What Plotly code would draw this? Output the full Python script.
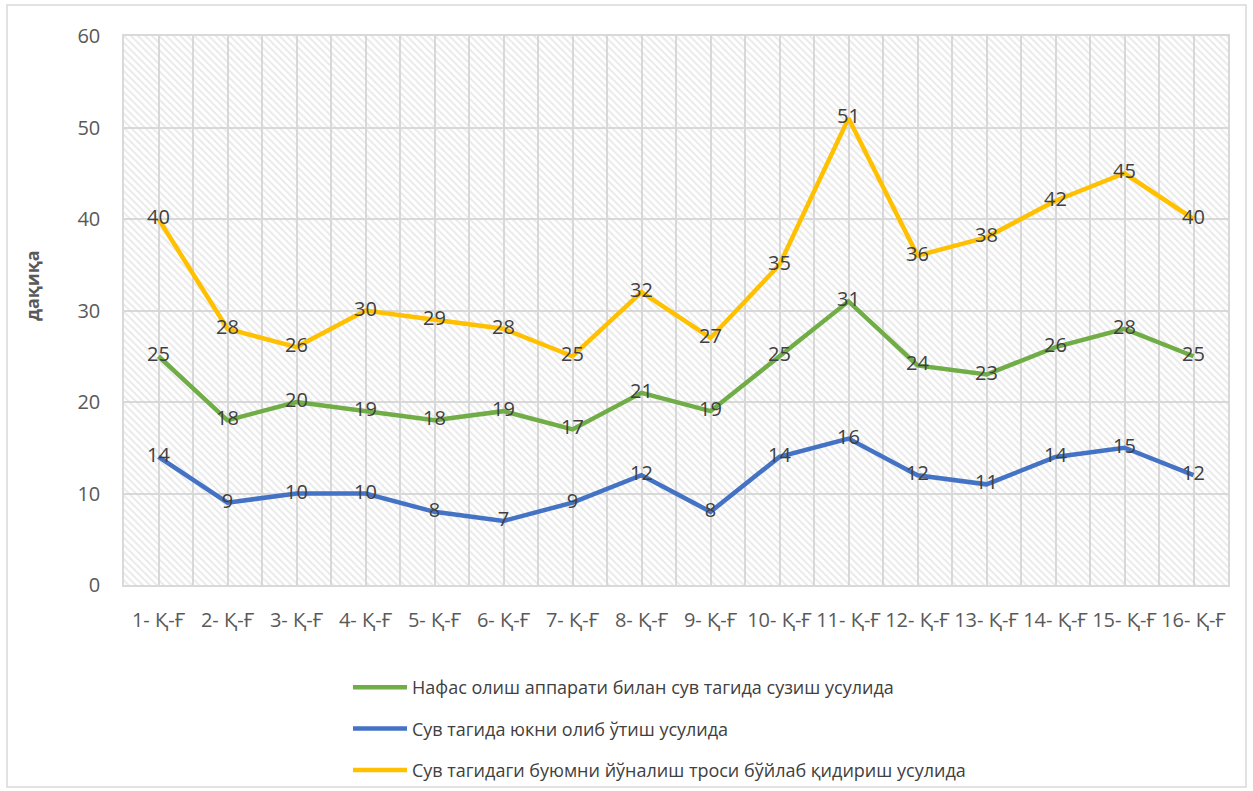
import plotly.graph_objects as go

categories = ["1- Қ-Ғ", "2- Қ-Ғ", "3- Қ-Ғ", "4- Қ-Ғ", "5- Қ-Ғ", "6- Қ-Ғ", "7- Қ-Ғ", "8- Қ-Ғ",
              "9- Қ-Ғ", "10- Қ-Ғ", "11- Қ-Ғ", "12- Қ-Ғ", "13- Қ-Ғ", "14- Қ-Ғ", "15- Қ-Ғ", "16- Қ-Ғ"]
green_name = "Нафас олиш аппарати билан сув тагида сузиш усулида"
blue_name = "Сув тагида юкни олиб ўтиш усулида"
yellow_name = "Сув тагидаги буюмни йўналиш троси бўйлаб қидириш усулида"
green_vals = [25, 18, 20, 19, 18, 19, 17, 21, 19, 25, 31, 24, 23, 26, 28, 25]
blue_vals = [14, 9, 10, 10, 8, 7, 9, 12, 8, 14, 16, 12, 11, 14, 15, 12]
yellow_vals = [40, 28, 26, 30, 29, 28, 25, 32, 27, 35, 51, 36, 38, 42, 45, 40]
y_ticks = [0, 10, 20, 30, 40, 50, 60]
y_title = "дақиқа"

FONT = "Open Sans"
FS = 20
W, H = 1253, 791
L, R, T, B = 124, 25, 36, 206
n = len(categories)
xs = list(range(n))
x_range = [-0.5, n - 0.5]
y_range = [y_ticks[0], y_ticks[-1]]

fig = go.Figure()

# hatched plot-area background
fig.add_trace(go.Scatter(
    x=[x_range[0], x_range[1], x_range[1], x_range[0], x_range[0]],
    y=[y_range[0], y_range[0], y_range[1], y_range[1], y_range[0]],
    mode="lines", line=dict(width=0), fill="toself",
    fillcolor="rgba(0,0,0,0)",
    fillpattern=dict(shape="\\", fgcolor="#d3d3d3", bgcolor="rgba(0,0,0,0)",
                     size=5, solidity=0.38),
    hoverinfo="skip", showlegend=False))

series = [
    (green_name, green_vals, "#70AD47"),
    (blue_name, blue_vals, "#4472C4"),
    (yellow_name, yellow_vals, "#FFC000"),
]
for i, (name, vals, color) in enumerate(series):
    fig.add_trace(go.Scatter(
        x=xs, y=vals, name=name, mode="lines+text",
        text=[str(v) for v in vals], textposition="middle center",
        textfont=dict(family=FONT, size=FS, color="#404040"),
        line=dict(color=color, width=4.5), legendgroup=str(i)))

px_x = lambda px: (px - L) / (W - L - R)
px_y = lambda py: (H - B - py) / (H - T - B)

# outer chart border
fig.add_shape(type="rect", xref="paper", yref="paper",
              x0=px_x(7), x1=px_x(1246), y0=px_y(787), y1=px_y(5),
              line=dict(color="#d9d9d9", width=1.5), fillcolor="rgba(0,0,0,0)", layer="below")

# y axis title
fig.add_annotation(text="<b>" + y_title + "</b>", textangle=-90, xref="paper", yref="paper",
                   x=px_x(32), y=px_y(286), showarrow=False, xanchor="center", yanchor="middle",
                   font=dict(family=FONT, size=18, color="#595959"))

fig.update_layout(
    width=W, height=H,
    margin=dict(l=L, r=R, t=T, b=B),
    paper_bgcolor="white", plot_bgcolor="white",
    font=dict(family=FONT, size=FS, color="#595959"),
    showlegend=True,
    legend=dict(orientation="v", x=px_x(348), xanchor="left",
                yref="container", y=1 - 669 / H, yanchor="top",
                font=dict(family=FONT, size=18, color="#404040"),
                itemwidth=54, tracegroupgap=15, bgcolor="rgba(0,0,0,0)"),
    xaxis=dict(range=x_range, tickmode="array", tickvals=xs, ticktext=categories,
               tickangle=0, showgrid=True, gridcolor="#d9d9d9", gridwidth=1.5,
               minor=dict(tickvals=[x + 0.5 for x in xs[:-1]], showgrid=True,
                          gridcolor="#d9d9d9", gridwidth=1.5),
               showline=True, linecolor="#d9d9d9", linewidth=1.5, mirror=True,
               zeroline=False, ticks="", ticklabelstandoff=16, automargin=False,
               tickfont=dict(family=FONT, size=FS, color="#595959"), fixedrange=True),
    yaxis=dict(range=y_range, tickmode="array", tickvals=y_ticks,
               showgrid=True, gridcolor="#d9d9d9", gridwidth=1.5,
               showline=True, linecolor="#d9d9d9", linewidth=1.5, mirror=True,
               zeroline=False, ticks="", ticklabelstandoff=18,
               tickfont=dict(family=FONT, size=FS, color="#595959"),
               automargin=False, fixedrange=True),
)

fig.write_html("out.html")
